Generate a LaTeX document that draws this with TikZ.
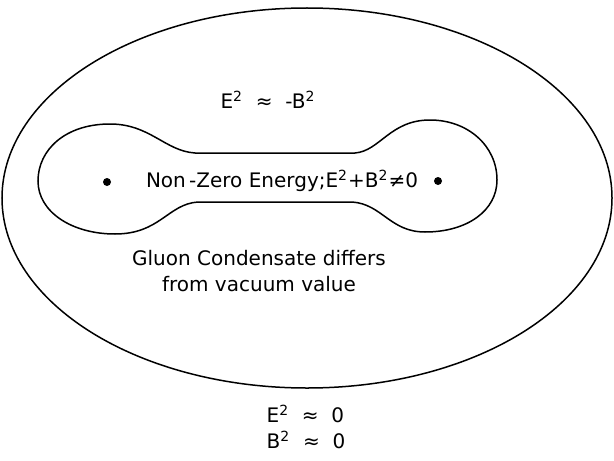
\documentclass[tikz,border=0pt]{standalone}
\usepackage{fontspec}
\setmainfont{DejaVu Sans}

\begin{document}
\begin{tikzpicture}[x=0.5pt, y=-0.5pt,
    dot/.style={circle, fill=black, inner sep=0pt, minimum size=4pt},
    lbl/.style={font=\fontsize{10}{13}\selectfont, align=center, inner sep=0pt},
    line width=0.75pt,
  ]
    \useasboundingbox (0,0) rectangle (614,460);

    % outer region
    \draw (307,198) ellipse [x radius=305, y radius=190];

    % dumbbell
    \draw (195,153) .. controls (165,151) and (150,124) .. (110,124)
      .. controls (65,124) and (38,150) .. (38,181)
      .. controls (38,212) and (72,234) .. (115,234)
      .. controls (160,234) and (168,204) .. (198,202)
      -- (352,202)
      .. controls (382,204) and (390,232) .. (425,232)
      .. controls (468,232) and (497,210) .. (497,180)
      .. controls (497,146) and (468,120) .. (430,120)
      .. controls (390,120) and (380,151) .. (355,153)
      -- cycle;

    \node[dot] (qleft)  at (107,182) {};
    \node[dot] (qright) at (438,181) {};

    \node[lbl] (outer)   at (268,100) {E\textsuperscript{2}\ \ ≈\ \ -B\textsuperscript{2}};
    \node[lbl] (inner)   at (282,181) {Non\,-Zero\ Energy;E\textsuperscript{2}+B\textsuperscript{2}≠0};
    \node[lbl] (condens) at (259,271) {Gluon Condensate\ differs\\from vacuum\ value};
    \node[lbl, align=left] (vacuum) at (306,427) {E\textsuperscript{2}\ \ ≈\ \ 0\\B\textsuperscript{2}\ \ ≈\ \ 0};
  \end{tikzpicture}
\end{document}
